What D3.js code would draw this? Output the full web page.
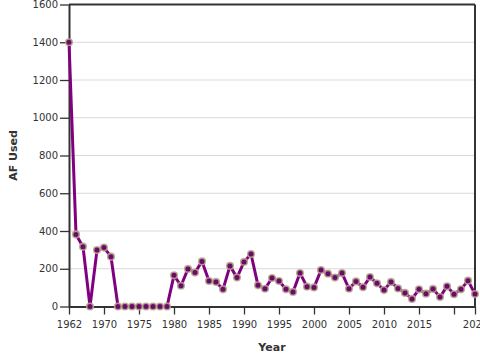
<!DOCTYPE html>
<html>
<head>
<meta charset="utf-8">
<script src="https://cdn.jsdelivr.net/npm/d3@7"></script>
<style>
  html, body { margin: 0; padding: 0; background: #fff; }
  svg { display: block; font-family: "DejaVu Sans", Verdana, sans-serif; }
</style>
</head>
<body>
<svg id="chart" width="480" height="360"></svg>
<script>
const years = ["1962","1966","1967","1968","1969",
  "1970","1971","1972","1973","1974","1975","1976","1977","1978","1979",
  "1980","1981","1982","1983","1984","1985","1986","1987","1988","1989",
  "1990","1991","1992","1993","1994","1995","1996","1997","1998","1999",
  "2000","2001","2002","2003","2004","2005","2006","2007","2008","2009",
  "2010","2011","2012","2013","2014","2015","2016","2017","2018","2019",
  "2020","2021","2022","2023"];
const afUsed = [1400, 382, 317, 0, 299,
  312, 264, 0, 0, 0, 0, 0, 0, 0, 0,
  165, 110, 199, 180, 239, 135, 130, 91, 215, 153,
  236, 278, 112, 94, 151, 135, 91, 77, 177, 105,
  101, 193, 174, 153, 177, 94, 133, 102, 156, 123,
  87, 130, 96, 72, 40, 91, 68, 93, 50, 107,
  65, 91, 137, 66];
const xTickYears = ["1962","1970","1975","1980","1985","1990","1995","2000","2005","2010","2015","2020","2023"];
const hiddenTickLabels = ["2020"];
const yTicks = [0, 200, 400, 600, 800, 1000, 1200, 1400, 1600];

const svg = d3.select("#chart");
const W = 480, H = 360;
const m = { left: 69, right: 5, top: 4.5, bottom: 53.5 };

const x = d3.scalePoint().domain(years).range([m.left, W - m.right]).padding(0);
const y = d3.scaleLinear().domain([0, 1600]).range([H - m.bottom, m.top]);

// gridlines
svg.append("g")
  .selectAll("line")
  .data(yTicks.filter(d => d > 0 && d < 1600))
  .join("line")
  .attr("x1", m.left).attr("x2", W - m.right)
  .attr("y1", d => y(d)).attr("y2", d => y(d))
  .attr("stroke", "#d9d9d9").attr("stroke-width", 1);

// frame top / right
svg.append("line")
  .attr("x1", m.left).attr("x2", W - m.right)
  .attr("y1", y(1600)).attr("y2", y(1600))
  .attr("stroke", "#333").attr("stroke-width", 2);
svg.append("line")
  .attr("x1", W - m.right).attr("x2", W - m.right)
  .attr("y1", y(1600)).attr("y2", y(0))
  .attr("stroke", "#333").attr("stroke-width", 2);

// y axis
const yAxis = svg.append("g")
  .attr("transform", `translate(${m.left},0)`)
  .call(d3.axisLeft(y).tickValues(yTicks).tickFormat(d3.format("d"))
    .tickSize(9).tickPadding(2).tickSizeOuter(0));
yAxis.select(".domain").attr("stroke", "#333").attr("stroke-width", 2);
yAxis.selectAll(".tick line").attr("stroke", "#333").attr("stroke-width", 1.3);
yAxis.selectAll(".tick text").attr("fill", "#333").style("font-size", "10px")
  .style("font-family", "'DejaVu Sans', Verdana, sans-serif");

// x axis
const xAxis = svg.append("g")
  .attr("transform", `translate(0,${y(0)})`)
  .call(d3.axisBottom(x).tickValues(xTickYears).tickSize(8).tickPadding(6).tickSizeOuter(0));
xAxis.select(".domain").attr("stroke", "#333").attr("stroke-width", 2);
xAxis.selectAll(".tick line").attr("stroke", "#333").attr("stroke-width", 1.3);
xAxis.selectAll(".tick text").attr("fill", "#333").style("font-size", "10px")
  .style("font-family", "'DejaVu Sans', Verdana, sans-serif")
  .text(d => hiddenTickLabels.includes(d) ? "" : d);

// line
const data = years.map((yr, i) => ({ year: yr, value: afUsed[i] }));
svg.append("path")
  .datum(data)
  .attr("fill", "none")
  .attr("stroke", "#800080")
  .attr("stroke-width", 3)
  .attr("stroke-linejoin", "round")
  .attr("d", d3.line().x(d => x(d.year)).y(d => y(d.value)));

// points
svg.append("g")
  .selectAll("circle")
  .data(data)
  .join("circle")
  .attr("cx", d => x(d.year))
  .attr("cy", d => y(d.value))
  .attr("r", 3.3)
  .attr("fill", "#6a0a6a")
  .attr("stroke", "#b9a98c")
  .attr("stroke-opacity", 0.85)
  .attr("stroke-width", 1.6);

// axis titles
svg.append("text")
  .attr("x", (m.left + W - m.right) / 2)
  .attr("y", 351)
  .attr("text-anchor", "middle")
  .attr("fill", "#333")
  .style("font-size", "11px").style("font-weight", "bold")
  .text("Year");

svg.append("text")
  .attr("transform", `translate(17,${(y(0) + y(1600)) / 2}) rotate(-90)`)
  .attr("text-anchor", "middle")
  .attr("fill", "#333")
  .style("font-size", "11px").style("font-weight", "bold")
  .text("AF Used");
</script>
</body>
</html>
